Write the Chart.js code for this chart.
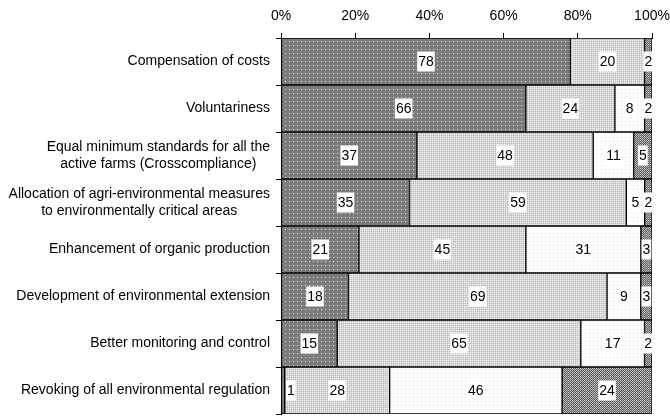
<!DOCTYPE html>
<html>
<head>
<meta charset="utf-8">
<script src="https://cdn.jsdelivr.net/npm/chart.js@4/dist/chart.umd.min.js"></script>
<style>
  body { margin: 0; background: #fff; }
</style>
</head>
<body>
<canvas id="chart" width="670" height="416"></canvas>
<script>
const categories = [
    "Compensation of costs",
    "Voluntariness",
    ["Equal minimum standards for all the", "active farms (Crosscompliance)"],
    ["Allocation of agri-environmental measures", "to environmentally critical areas"],
    "Enhancement of organic production",
    "Development of environmental extension",
    "Better monitoring and control",
    "Revoking of all environmental regulation",
];
const series1 = [78, 66, 37, 35, 21, 18, 15, 1];
const series2 = [20, 24, 48, 59, 45, 69, 65, 28];
const series3 = [0, 8, 11, 5, 31, 9, 17, 46];
const series4 = [2, 2, 5, 2, 3, 3, 2, 24];
const xTicks = [0, 20, 40, 60, 80, 100];

const FONT = "'Liberation Sans', Arial, sans-serif";
Chart.defaults.font.family = FONT;
Chart.defaults.font.size = 14;
Chart.defaults.color = "#000";

const ctx = document.getElementById("chart").getContext("2d");

// small tiles for the bar fills
const makePattern = (size, base, dots) => {
    const c = document.createElement("canvas");
    c.width = size;
    c.height = size;
    const g = c.getContext("2d");
    g.fillStyle = base;
    g.fillRect(0, 0, size, size);
    dots.forEach(([x, y, col]) => {
        g.fillStyle = col;
        g.fillRect(x, y, 1, 1);
    });
    return ctx.createPattern(c, "repeat");
};
const fills = [
    makePattern(4, "#7c7c7c", [[1, 1, "#e0e0e0"]]),
    makePattern(2, "#d4d4d4", [[0, 0, "#f2f2f2"], [1, 1, "#bebebe"]]),
    makePattern(4, "#ffffff", [[1, 1, "#d8d8d8"]]),
    makePattern(2, "#5e5e5e", [[0, 0, "#c4c4c4"], [1, 1, "#b0b0b0"]]),
];

const raw = [series1, series2, series3, series4];
const totals = categories.map((_, i) => raw.reduce((s, arr) => s + arr[i], 0));
const pct = (arr) => arr.map((v, i) => (v / totals[i]) * 100);

// category names, lines centred on each other, right edge at the ticks
const yLabels = {
    id: "yLabels",
    afterDraw(chart) {
        const { ctx, scales: { y } } = chart;
        ctx.save();
        ctx.font = "14px " + FONT;
        ctx.fillStyle = "#000";
        ctx.textAlign = "center";
        ctx.textBaseline = "middle";
        const right = y.right - 5 - 6;
        categories.forEach((label, i) => {
            const lines = Array.isArray(label) ? label : [label];
            const widest = Math.max(...lines.map((l) => ctx.measureText(l).width));
            const cy = y.getPixelForValue(i);
            const lh = 17;
            lines.forEach((l, k) => {
                ctx.fillText(l, right - widest / 2, cy + (k - (lines.length - 1) / 2) * lh);
            });
        });
        ctx.restore();
    },
};

// value labels on white boxes
const valueLabels = {
    id: "valueLabels",
    afterDatasetsDraw(chart) {
        const { ctx, chartArea } = chart;
        ctx.save();
        ctx.font = "14px " + FONT;
        ctx.textAlign = "center";
        ctx.textBaseline = "middle";
        chart.data.datasets.forEach((ds, d) => {
            chart.getDatasetMeta(d).data.forEach((bar, i) => {
                const v = raw[d][i];
                if (!v) return;
                const text = String(v);
                const w = ctx.measureText(text).width + 2;
                let cx = (bar.x + bar.base) / 2;
                cx = Math.max(cx, chartArea.left + 5 + w / 2);
                ctx.fillStyle = "#fff";
                ctx.fillRect(cx - w / 2, bar.y - 10, w, 20);
                ctx.fillStyle = "#000";
                ctx.fillText(text, cx, bar.y + 1);
            });
        });
        ctx.restore();
    },
};

new Chart(ctx, {
    type: "bar",
    data: {
        labels: categories,
        datasets: raw.map((arr, d) => ({
            data: pct(arr),
            backgroundColor: fills[d],
            borderColor: "#000",
            borderWidth: 1,
            borderSkipped: false,
            barPercentage: 1,
            categoryPercentage: 1,
        })),
    },
    options: {
        indexAxis: "y",
        responsive: false,
        animation: false,
        layout: { padding: { top: 0, right: 18, left: 0, bottom: 2 } },
        plugins: {
            legend: { display: false },
            tooltip: { enabled: false },
        },
        scales: {
            x: {
                stacked: true,
                position: "top",
                min: 0,
                max: 100,
                afterBuildTicks: (scale) => {
                    scale.ticks = xTicks.map((v) => ({ value: v }));
                },
                afterFit: (scale) => {
                    scale.height = 38;
                    scale.paddingLeft = 0;
                    scale.paddingRight = 0;
                },
                ticks: {
                    padding: 8,
                    maxRotation: 0,
                    callback: (v) => v + "%",
                },
                grid: {
                    drawOnChartArea: false,
                    tickLength: 5,
                    color: "#000",
                },
                border: { color: "#000" },
            },
            y: {
                stacked: true,
                afterFit: (scale) => {
                    scale.width = 281;
                },
                ticks: { display: false },
                grid: {
                    drawOnChartArea: false,
                    tickLength: 5,
                    color: "#000",
                },
                border: { color: "#000" },
            },
        },
    },
    plugins: [yLabels, valueLabels],
});
</script>
</body>
</html>
